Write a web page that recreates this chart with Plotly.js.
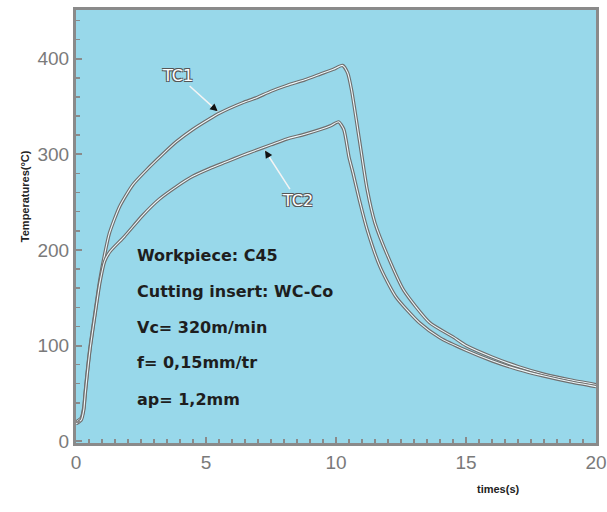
<!DOCTYPE html>
<html>
<head>
<meta charset="utf-8">
<script src="https://cdn.plot.ly/plotly-3.0.1.min.js"></script>
<style>html,body{margin:0;padding:0;background:#fff;}#chart{width:607px;height:512px;}</style>
</head>
<body>
<div id="chart"></div>
<script>
// Data
const timeTC1 = [0, 0.2, 0.3, 0.35, 0.54, 0.73, 0.92, 1.1, 1.28, 1.67, 2.18, 2.69, 3.33, 3.85, 4.49, 5.13, 5.51, 6.41, 6.92, 7.5, 8.1, 8.8, 9.4, 9.9, 10.25, 10.45, 10.6, 10.9, 11.2, 11.5, 12.0, 12.6, 13.6, 14.5, 15.0, 16.0, 17.0, 18.0, 19.0, 20.0];
const tempTC1 = [20, 24, 35, 50, 98, 134, 169, 195, 217, 245, 268, 283, 300, 313, 326, 337, 343, 354, 359, 366, 372, 378, 384, 389, 393, 385, 367, 315, 263, 228, 193, 158, 124, 109, 100, 88, 78, 70, 64, 59];
const timeTC2 = [0, 0.2, 0.3, 0.35, 0.54, 0.73, 0.92, 1.1, 1.3, 1.86, 2.56, 3.2, 3.85, 4.49, 5.13, 5.77, 6.41, 6.8, 7.5, 8.1, 8.8, 9.4, 9.8, 10.1, 10.3, 10.5, 10.65, 10.9, 11.2, 11.7, 12.3, 13.2, 14.0, 15.0, 16.0, 17.0, 18.0, 19.0, 20.0];
const tempTC2 = [18, 22, 33, 48, 96, 132, 166, 188, 198, 214, 236, 253, 266, 277, 285, 292, 299, 303, 310, 316, 321, 326, 330, 334, 326, 297, 281, 252, 221, 182, 151, 124, 108, 95, 84, 75, 68, 62, 57];
const xTicks = [0, 5, 10, 15, 20];
const yTicks = [0, 100, 200, 300, 400];
const conditions = ["Workpiece: C45", "Cutting insert: WC-Co", "Vc= 320m/min", "f= 0,15mm/tr", "ap= 1,2mm"];
const conditionY = [194, 156, 119, 82, 44];

const outer = {color: '#6e6e6e', width: 3.4, shape: 'spline', smoothing: 0.6};
const inner = {color: '#eef8fb', width: 1.1, shape: 'spline', smoothing: 0.6};
const traces = [
  {x: timeTC1, y: tempTC1, mode: 'lines', line: outer, name: 'TC1', hoverinfo: 'skip'},
  {x: timeTC1, y: tempTC1, mode: 'lines', line: inner, name: 'TC1 ', hoverinfo: 'skip'},
  {x: timeTC2, y: tempTC2, mode: 'lines', line: outer, name: 'TC2', hoverinfo: 'skip'},
  {x: timeTC2, y: tempTC2, mode: 'lines', line: inner, name: 'TC2 ', hoverinfo: 'skip'}
];

const labelFont = {family: 'DejaVu Sans', size: 16, color: '#ffffff',
  shadow: '1px 1px 0 #555, -1px -1px 0 #555, 1px -1px 0 #555, -1px 1px 0 #555'};

const annotations = [
  {x: 5.45, y: 345, ax: 3.9, ay: 383, axref: 'x', ayref: 'y', xref: 'x', yref: 'y',
   text: 'TC1', font: labelFont, showarrow: true, arrowhead: 0, arrowwidth: 1.5, arrowcolor: '#f4f4f4'},
  {x: 5.45, y: 345, ax: -7, ay: -6, xref: 'x', yref: 'y', text: '', showarrow: true,
   arrowhead: 2, arrowsize: 1, arrowwidth: 1.5, arrowcolor: '#111'},
  {x: 7.27, y: 304, ax: 8.5, ay: 252, axref: 'x', ayref: 'y', xref: 'x', yref: 'y',
   text: 'TC2', font: labelFont, showarrow: true, arrowhead: 0, arrowwidth: 1.5, arrowcolor: '#f4f4f4'},
  {x: 7.27, y: 304, ax: 5, ay: 8, xref: 'x', yref: 'y', text: '', showarrow: true,
   arrowhead: 2, arrowsize: 1, arrowwidth: 1.5, arrowcolor: '#111'},
  {xref: 'paper', yref: 'paper', x: -0.1135, y: 0.57, text: '<b>Temperatures(°C)</b>', textangle: -90,
   showarrow: false, font: {family: 'Liberation Sans', size: 11, color: '#222'}},
  {xref: 'paper', yref: 'paper', x: 0.858, y: -0.125, text: '<b>times(s)</b>',
   showarrow: false, font: {family: 'Liberation Sans', size: 11, color: '#222'}}
];
conditions.forEach((t, i) => {
  annotations.push({x: 2.27, y: conditionY[i], xref: 'x', yref: 'y', xanchor: 'left', text: t,
    showarrow: false, font: {family: 'DejaVu Sans', size: 16, weight: 'bold', color: '#1e1e1e'}});
});

const axisCommon = {
  showgrid: false, zeroline: false, showline: true, linecolor: '#8a8a8a', linewidth: 3, mirror: true,
  ticks: 'inside', ticklen: 6, tickcolor: '#8a8a8a', tickwidth: 2,
  tickfont: {family: 'Liberation Sans', size: 19, color: '#7a7a7a'}
};

const layout = {
  width: 607, height: 512,
  margin: {l: 76, r: 11, t: 10, b: 69},
  paper_bgcolor: '#ffffff', plot_bgcolor: '#98d8ea',
  showlegend: false,
  xaxis: Object.assign({}, axisCommon, {range: [0, 20], tickvals: xTicks, ticktext: xTicks.map(String),
    minor: {dtick: 0.5, ticks: 'inside', ticklen: 4, tickcolor: '#8a8a8a', tickwidth: 1.5}}),
  yaxis: Object.assign({}, axisCommon, {range: [-2, 451], tickvals: yTicks, ticktext: yTicks.map(String),
    minor: {dtick: 20, ticks: 'inside', ticklen: 4, tickcolor: '#8a8a8a', tickwidth: 1.5}}),
  annotations: annotations
};

Plotly.newPlot('chart', traces, layout, {displayModeBar: false, staticPlot: true});
</script>
</body>
</html>
